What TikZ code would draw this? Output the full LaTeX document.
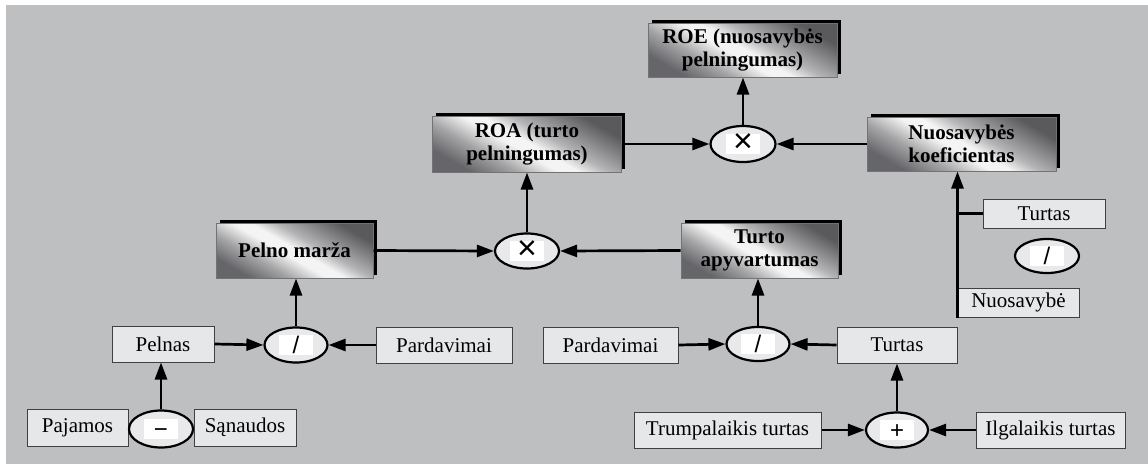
\documentclass[tikz,border=0pt]{standalone}
\usepackage{fontspec}
\setmainfont{Liberation Serif}
\newfontfamily\symf{Liberation Sans}
\usetikzlibrary{arrows.meta,shadows,shapes.geometric}
\definecolor{bg}{HTML}{BEBFC1}
\definecolor{boxfill}{HTML}{E6E7E9}
\definecolor{opfill}{HTML}{E9E9EB}
\definecolor{mA}{HTML}{66666A}
\definecolor{mB}{HTML}{A4A4A6}
\definecolor{mC}{HTML}{F4F4F4}
\definecolor{mD}{HTML}{B4B4B6}
\definecolor{mE}{HTML}{5A5A5C}
\pgfdeclarehorizontalshading{metal}{100bp}{color(0bp)=(mA); color(25bp)=(mA); color(36bp)=(mB); color(46bp)=(mC); color(51bp)=(mC); color(58bp)=(mD); color(75bp)=(mE); color(100bp)=(mE)}
\setlength{\fboxsep}{0pt}
\newcommand{\opsym}[1]{\colorbox{white}{\makebox[34pt]{\rule[-2pt]{0pt}{20pt}\symf\fontsize{24}{24}\selectfont #1}}}
\newcommand{\opx}{\colorbox{white}{\makebox[34pt]{\rule[-3pt]{0pt}{20pt}\symf\fontsize{34}{34}\selectfont\raisebox{-1.5pt}{×}}}}
\begin{document}
\begin{tikzpicture}[x=1pt,y=-1pt,
  lightbox/.style={draw=black!75, line width=1pt, fill=boxfill, inner sep=0pt,
    minimum height=36pt, font=\fontsize{21}{23}\selectfont},
  metalbox/.style={draw=black!55, line width=1pt, shading=metal, shading angle=60,
    inner sep=0pt, align=center, font=\fontsize{21}{23}\selectfont\bfseries,
    general shadow={fill=black, shadow xshift=3.5pt, shadow yshift=3.5pt}},
  opnode/.style={ellipse, draw=black, line width=2.2pt, fill=opfill, inner sep=0pt,
    minimum width=64pt, minimum height=35pt},
  arr/.style={line width=2.7pt, -{Triangle[length=17pt,width=12pt]}},
  plain/.style={line width=2.7pt}
]
\useasboundingbox (0,0) rectangle (1148,464);
\fill[bg] (6,5) rectangle (1148,464);

% metallic boxes
\node[metalbox, minimum width=189pt, minimum height=54pt] (roe) at (742.5,50) {ROE (nuosavybės\\pelningumas)};
\node[metalbox, minimum width=189pt, minimum height=56pt] (roa) at (527,144) {ROA (turto\\pelningumas)};
\node[metalbox, minimum width=189pt, minimum height=54pt] (nk) at (961.5,144) {Nuosavybės\\koeficientas};
\node[metalbox, minimum width=157pt, minimum height=55pt] (pm) at (294.5,250.5) {Pelno marža};
\node[metalbox, minimum width=157pt, minimum height=55pt] (ta) at (759.5,250.5) {Turto\\apyvartumas};

% light boxes
\node[lightbox, minimum width=102pt] (pelnas) at (163,344) {Pelnas};
\node[lightbox, minimum width=136pt] (pardL) at (444,345) {Pardavimai};
\node[lightbox, minimum width=135pt] (pardR) at (610.5,345) {Pardavimai};
\node[lightbox, minimum width=120pt] (turtM) at (897,345) {Turtas};
\node[lightbox, minimum width=101pt, minimum height=37pt] (paj) at (77.5,427.5) {Pajamos};
\node[lightbox, minimum width=102pt, minimum height=37pt] (san) at (245,427.5) {Sąnaudos};
\node[lightbox, minimum width=187pt] (trump) at (727.5,430) {Trumpalaikis turtas};
\node[lightbox, minimum width=149pt] (ilg) at (1050.5,430) {Ilgalaikis turtas};
\node[lightbox, minimum width=122pt, minimum height=29pt] (turtR) at (1044,213.5) {Turtas};
\node[lightbox, minimum width=121pt, minimum height=29pt] (nuos) at (1018.5,302.5) {Nuosavybė};

% operators
\node[opnode, minimum width=65pt, minimum height=36pt] (opTop) at (743,144) {\opx};
\node[opnode] (opMid) at (527,251) {\opx};
\node[opnode, minimum width=63pt] (opPM) at (296,345) {\opsym{/}};
\node[opnode, minimum height=37pt] (opMin) at (161,429) {\opsym{−}};
\node[opnode, minimum width=63pt, minimum height=34pt] (opTA) at (758,344) {\opsym{/}};
\node[opnode, minimum width=62pt] (opPl) at (897,430) {\opsym{+}};
\node[opnode, minimum height=34pt] (opNK) at (1047,256) {\opsym{/}};

% connectors
\draw[arr] (opTop.north) -- (opTop.north |- roe.south);
\draw[arr] (roa.east) -- (opTop.west);
\draw[arr] (nk.west) -- (opTop.east);
\draw[arr] (opMid.north) -- (opMid.north |- roa.south);
\draw[arr] (pm.east) -- (opMid.west);
\draw[arr] (ta.west) -- (opMid.east);
\draw[arr] (opPM.north) -- (opPM.north |- pm.south);
\draw[arr] (pelnas.east) -- (opPM.west);
\draw[arr] (pardL.west) -- (opPM.east);
\draw[arr] (opMin.north) -- (opMin.north |- pelnas.south);
\draw[arr] (opTA.north) -- (opTA.north |- ta.south);
\draw[arr] (pardR.east) -- (opTA.west);
\draw[arr] (turtM.west) -- (opTA.east);
\draw[arr] (opPl.north) -- (opPl.north |- turtM.south);
\draw[arr] (trump.east) -- (opPl.west);
\draw[arr] (ilg.west) -- (opPl.east);
\draw[arr] (nuos.south west) -- (nuos.south west |- nk.south);
\draw[plain] (nuos.south west |- turtR.west) -- (turtR.west);
\end{tikzpicture}
\end{document}
